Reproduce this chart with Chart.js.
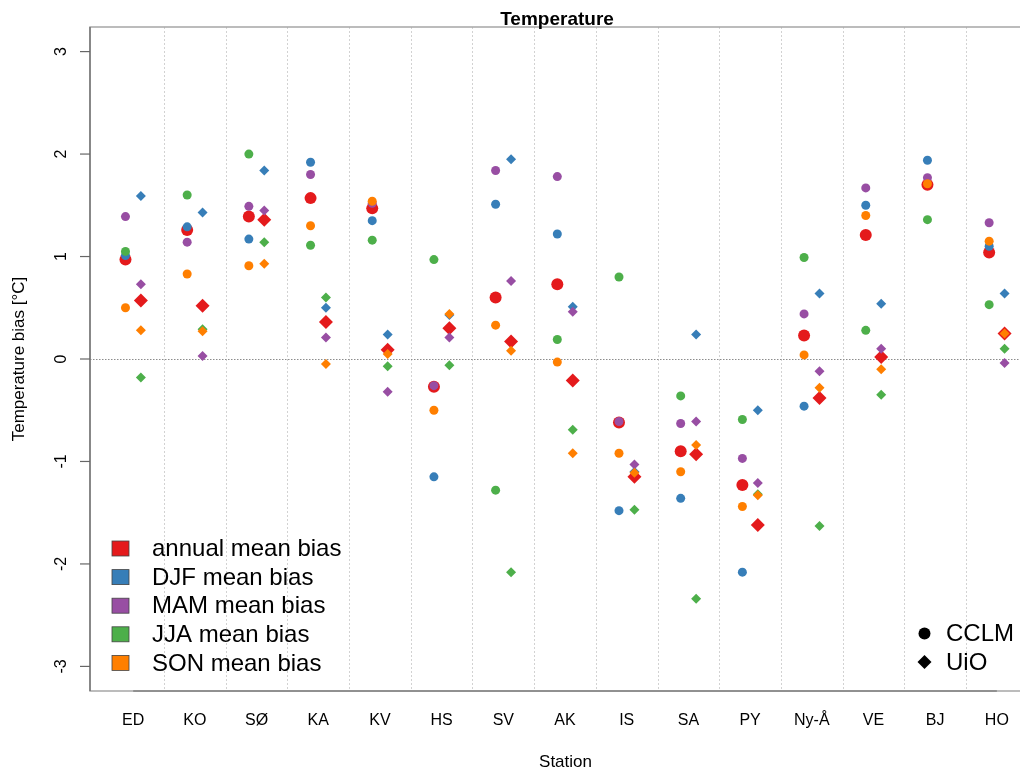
<!DOCTYPE html>
<html>
<head>
<meta charset="utf-8">
<title>Temperature</title>
<script src="https://cdn.jsdelivr.net/npm/chart.js@4.4.1/dist/chart.umd.min.js"></script>
<style>
  html, body { margin: 0; padding: 0; overflow: hidden; background: #ffffff; }
  canvas { display: block; }
</style>
</head>
<body>
<canvas id="chart" width="1044" height="772"></canvas>
<script>
// Stations along the x axis
const stations = ['ED', 'KO', 'SØ', 'KA', 'KV', 'HS', 'SV', 'AK', 'IS', 'SA', 'PY', 'Ny-Å', 'VE', 'BJ', 'HO'];
const yTicks = [-3, -2, -1, 0, 1, 2, 3];

// Series names and colours (annual + the four seasons)
const seriesLabels = ['annual mean bias', 'DJF mean bias', 'MAM mean bias', 'JJA mean bias', 'SON mean bias'];
const seriesColors = ['#E41A1C', '#377EB8', '#984EA3', '#4DAF4A', '#FF7F00'];
const modelLabels = ['CCLM', 'UiO'];

// CCLM temperature bias [°C]
const cclmAnnual = [0.97, 1.26, 1.39, 1.57, 1.47, -0.27, 0.60, 0.73, -0.62, -0.90, -1.23, 0.23, 1.21, 1.70, 1.04];
const cclmDJF    = [1.01, 1.29, 1.17, 1.92, 1.35, -1.15, 1.51, 1.22, -1.48, -1.36, -2.08, -0.46, 1.50, 1.94, 1.10];
const cclmMAM    = [1.39, 1.14, 1.49, 1.80, 1.52, -0.26, 1.84, 1.78, -0.61, -0.63, -0.97, 0.44, 1.67, 1.77, 1.33];
const cclmJJA    = [1.05, 1.60, 2.00, 1.11, 1.16, 0.97, -1.28, 0.19, 0.80, -0.36, -0.59, 0.99, 0.28, 1.36, 0.53];
const cclmSON    = [0.50, 0.83, 0.91, 1.30, 1.54, -0.50, 0.33, -0.03, -0.92, -1.10, -1.44, 0.04, 1.40, 1.71, 1.15];

// UiO temperature bias [°C] (no values for BJ)
const uioAnnual = [0.57, 0.52, 1.36, 0.36, 0.09, 0.30, 0.17, -0.21, -1.15, -0.93, -1.62, -0.38, 0.02, null, 0.25];
const uioDJF    = [1.59, 1.43, 1.84, 0.50, 0.24, 0.43, 1.95, 0.51, -1.10, 0.24, -0.50, 0.64, 0.54, null, 0.64];
const uioMAM    = [0.73, 0.03, 1.45, 0.21, -0.32, 0.21, 0.76, 0.46, -1.03, -0.61, -1.21, -0.12, 0.10, null, -0.04];
const uioJJA    = [-0.18, 0.29, 1.14, 0.60, -0.07, -0.06, -2.08, -0.69, -1.47, -2.34, -1.32, -1.63, -0.35, null, 0.10];
const uioSON    = [0.28, 0.27, 0.93, -0.05, 0.05, 0.44, 0.08, -0.92, -1.11, -0.84, -1.33, -0.28, -0.10, null, 0.25];

const cclmSeries = [cclmAnnual, cclmDJF, cclmMAM, cclmJJA, cclmSON];
const uioSeries  = [uioAnnual, uioDJF, uioMAM, uioJJA, uioSON];

const FONT = "'Liberation Sans', Arial, Helvetica, sans-serif";
const SHIFT = 0.125; // side-by-side offset of the two models within a station

function toPoints(values, shift) {
  const pts = [];
  values.forEach((v, i) => { if (v !== null) pts.push({ x: i + 1 + shift, y: v }); });
  return pts;
}

const datasets = [];
seriesLabels.forEach((label, k) => {
  const big = k === 0;
  datasets.push({
    label: 'CCLM ' + label,
    data: toPoints(cclmSeries[k], -SHIFT),
    pointStyle: 'circle',
    pointRadius: big ? 6 : 4.5,
    pointBackgroundColor: seriesColors[k],
    pointBorderWidth: 0,
    showLine: false,
    order: 10 - k
  });
  datasets.push({
    label: 'UiO ' + label,
    data: toPoints(uioSeries[k], SHIFT),
    pointStyle: 'rectRot',
    pointRadius: big ? 7 : 5,
    pointBackgroundColor: seriesColors[k],
    pointBorderWidth: 0,
    showLine: false,
    order: 10 - k
  });
});

// Frame, grid, axes, titles and legends around the scatter
const decorations = {
  id: 'decorations',
  beforeDatasetsDraw(chart) {
    const { ctx, chartArea: a, scales: { x, y } } = chart;
    ctx.save();
    // dotted separators between stations
    ctx.strokeStyle = '#d2d2d2';
    ctx.lineWidth = 1;
    ctx.setLineDash([2, 2]);
    for (let i = 1; i < stations.length; i++) {
      const px = Math.round(x.getPixelForValue(i + 0.5)) + 0.5;
      ctx.beginPath();
      ctx.moveTo(px, a.top);
      ctx.lineTo(px, a.bottom);
      ctx.stroke();
    }
    // zero reference line
    ctx.strokeStyle = '#8c8c8c';
    ctx.setLineDash([1.5, 1.5]);
    const py0 = Math.round(y.getPixelForValue(0)) + 0.5;
    ctx.beginPath();
    ctx.moveTo(a.left, py0);
    ctx.lineTo(a.right, py0);
    ctx.stroke();
    ctx.restore();
  },
  afterDatasetsDraw(chart) {
    const { ctx, chartArea: a, scales: { x, y } } = chart;
    ctx.save();
    ctx.setLineDash([]);

    // plot frame
    ctx.strokeStyle = '#a6a6a6';
    ctx.lineWidth = 1.5;
    ctx.strokeRect(a.left, a.top, a.right - a.left, a.bottom - a.top);

    // axis lines
    ctx.strokeStyle = '#666666';
    ctx.lineWidth = 1.2;
    ctx.beginPath();
    ctx.moveTo(x.getPixelForValue(1), a.bottom);
    ctx.lineTo(x.getPixelForValue(stations.length), a.bottom);
    ctx.moveTo(a.left, a.top);
    ctx.lineTo(a.left, a.bottom);
    ctx.stroke();

    // y ticks and rotated labels
    ctx.fillStyle = '#000000';
    ctx.font = '16px ' + FONT;
    ctx.textAlign = 'center';
    ctx.textBaseline = 'middle';
    yTicks.forEach(v => {
      const py = y.getPixelForValue(v);
      ctx.beginPath();
      ctx.moveTo(a.left - 10, py);
      ctx.lineTo(a.left, py);
      ctx.stroke();
      ctx.save();
      ctx.translate(a.left - 28, py);
      ctx.rotate(-Math.PI / 2);
      ctx.fillText(String(v), 0, 0);
      ctx.restore();
    });

    // station labels
    stations.forEach((s, i) => {
      ctx.fillText(s, x.getPixelForValue(i + 1), a.bottom + 30);
    });

    // axis titles
    ctx.font = '17px ' + FONT;
    ctx.fillText('Station', (x.getPixelForValue(1) + x.getPixelForValue(stations.length)) / 2 + 0.5, a.bottom + 71);
    ctx.save();
    ctx.translate(19, (a.top + a.bottom) / 2);
    ctx.rotate(-Math.PI / 2);
    ctx.fillText('Temperature bias [°C]', 0, 0);
    ctx.restore();

    // main title
    ctx.font = 'bold 19px ' + FONT;
    ctx.textBaseline = 'alphabetic';
    ctx.fillText('Temperature', (a.left + a.right) / 2, a.top - 2);

    // series legend
    ctx.font = '24px ' + FONT;
    ctx.textAlign = 'left';
    ctx.textBaseline = 'middle';
    seriesLabels.forEach((label, k) => {
      const cy = 548.5 + k * 28.6;
      ctx.fillStyle = seriesColors[k];
      ctx.fillRect(112, cy - 7.5, 17, 15);
      ctx.strokeStyle = '#444444';
      ctx.lineWidth = 0.8;
      ctx.strokeRect(112, cy - 7.5, 17, 15);
      ctx.fillStyle = '#000000';
      ctx.fillText(label, 152, cy + 1);
    });

    // model legend
    ctx.fillStyle = '#000000';
    ctx.beginPath();
    ctx.arc(924.5, 633.5, 6, 0, Math.PI * 2);
    ctx.fill();
    ctx.beginPath();
    ctx.moveTo(924.5, 662 - 7);
    ctx.lineTo(931.5, 662);
    ctx.lineTo(924.5, 662 + 7);
    ctx.lineTo(917.5, 662);
    ctx.closePath();
    ctx.fill();
    ctx.fillText(modelLabels[0], 946, 634);
    ctx.fillText(modelLabels[1], 946, 663);

    ctx.restore();
  }
};

new Chart(document.getElementById('chart'), {
  type: 'scatter',
  data: { datasets },
  options: {
    responsive: false,
    animation: false,
    devicePixelRatio: 1,
    events: [],
    layout: { padding: { left: 90, top: 27, right: 20, bottom: 81 } },
    scales: {
      x: { type: 'linear', min: 0.3, max: 15.44, display: false },
      y: { type: 'linear', min: -3.24, max: 3.24, display: false }
    },
    plugins: {
      legend: { display: false },
      tooltip: { enabled: false },
      title: { display: false }
    }
  },
  plugins: [decorations]
});
</script>
</body>
</html>
